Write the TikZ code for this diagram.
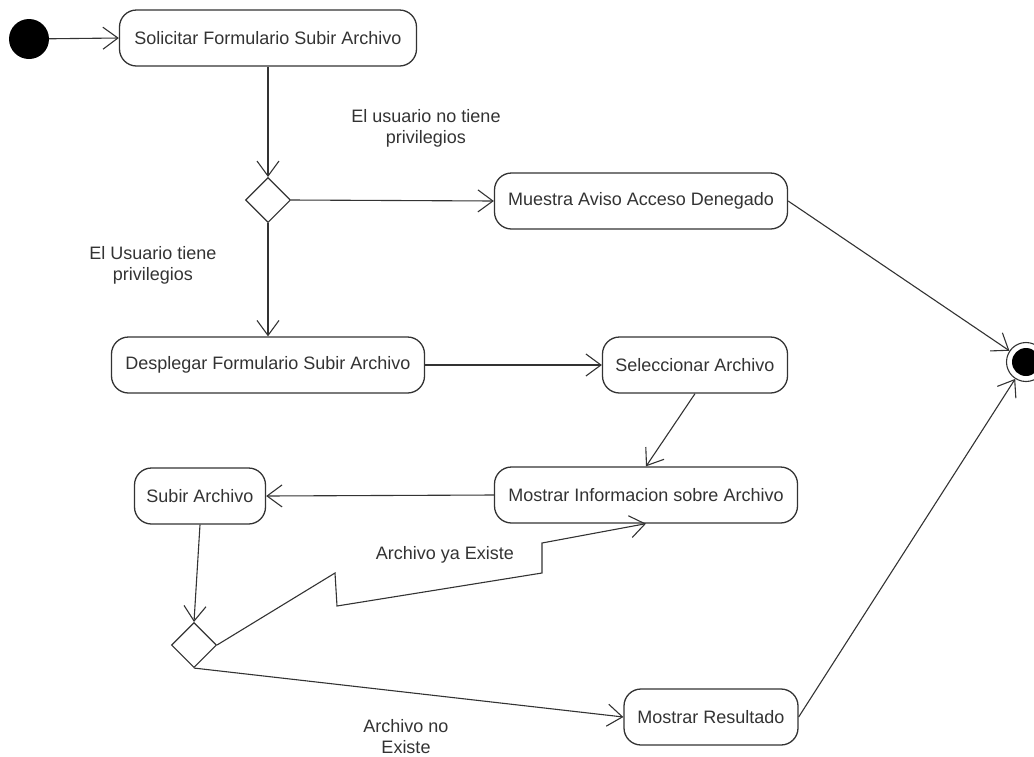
\documentclass[tikz,border=0pt]{standalone}
\usepackage{fontspec}
\setmainfont{Liberation Sans}
\usetikzlibrary{arrows.meta,shapes.geometric}
\definecolor{ink}{HTML}{333333}
\begin{document}
\begin{tikzpicture}[x=1pt,y=-1pt,
  every node/.style={font=\fontsize{18}{21}\selectfont, text=ink},
  action/.style={draw=ink, line width=1.3pt, rounded corners=17pt,
    minimum height=56pt, inner sep=0pt},
  decision/.style={draw=ink, line width=1.1pt, diamond,
    minimum width=45pt, minimum height=45pt, inner sep=0pt},
  flow/.style={draw=ink, line width=1.1pt,
    -{Straight Barb[length=15pt,width=22pt,line width=1.1pt]}},
  guard/.style={align=center},
]
\useasboundingbox (0,0) rectangle (1034,756);

% start and end states
\node[circle, fill=black, minimum size=40pt, inner sep=0pt] (ini) at (29,39) {};
\node[circle, draw=ink, line width=1.1pt, minimum size=39pt, inner sep=0pt] (fin) at (1026,362) {};
\node[circle, fill=black, minimum size=28pt, inner sep=0pt] (fincore) at (fin) {};

% actions
\node[action, minimum width=297pt] (sol)   at (268,38)  {Solicitar Formulario Subir Archivo};
\node[action, minimum width=293pt] (aviso) at (641,201) {Muestra Aviso Acceso Denegado};
\node[action, minimum width=313pt] (desp)  at (268,365) {Desplegar Formulario Subir Archivo};
\node[action, minimum width=185pt] (sel)   at (695,365) {Seleccionar Archivo};
\node[action, minimum width=303pt] (info)  at (646,495) {Mostrar Informacion sobre Archivo};
\node[action, minimum width=131pt] (subir) at (200,496) {Subir Archivo};
\node[action, minimum width=174pt] (res)   at (711,717) {Mostrar Resultado};

% decisions
\node[decision] (d1) at (268,200) {};
\node[decision] (d2) at (194,645) {};

% guards
\node[guard] (g1) at (426,128) {El usuario no tiene\\privilegios};
\node[guard] (g2) at (153,265) {El Usuario tiene\\privilegios};
\node        (g3) at (445,555) {Archivo ya Existe};
\node[guard] (g4) at (406,737) {Archivo no\\Existe};

% bends of the "ya existe" flow
\coordinate (k1) at (335,573);
\coordinate (k2) at (337,606);
\coordinate (k3) at (542,573);
\coordinate (k4) at (542,543);

% flows
\draw[flow] (ini) -- (sol.west);
\draw[flow] (sol.south) -- (d1.north);
\draw[flow] (d1.east) -- (aviso.west);
\draw[flow] (d1.south) -- (desp.north);
\draw[flow] (desp.east) -- (sel.west);
\draw[flow] (sel.south) -- (info.north);
\draw[flow] (info.west) -- (subir.east);
\draw[flow] (subir.south) -- (d2.north);
\draw[flow] (d2.east) -- (k1) -- (k2) -- (k3) -- (k4) -- (info.south);
\draw[flow] (d2.south) -- (res.west);
\draw[flow] (aviso.east) -- (fin);
\draw[flow] (res.east) -- (fin);
\end{tikzpicture}
\end{document}
